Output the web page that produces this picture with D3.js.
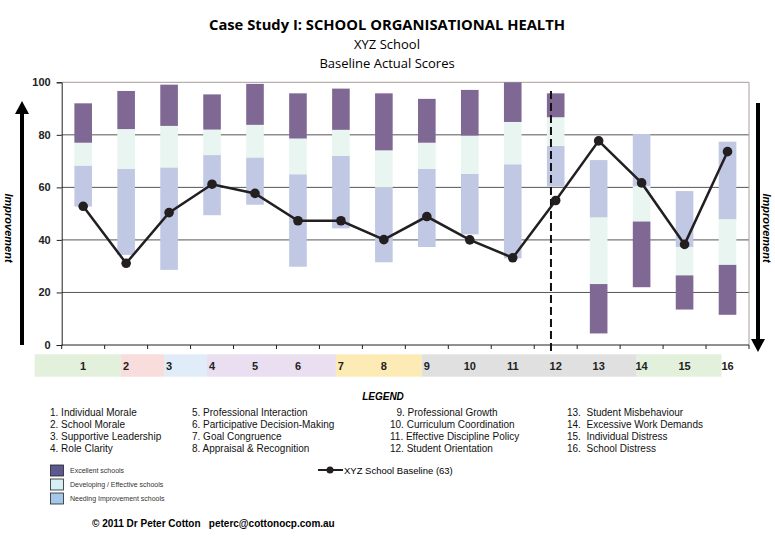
<!doctype html>
<html>
<head>
<meta charset="utf-8">
<title>Case Study I: School Organisational Health</title>
<script src="https://cdn.jsdelivr.net/npm/d3@7"></script>
<style>
  body { margin: 0; background: #fff; }
  svg text { font-family: "Liberation Sans", Arial, sans-serif; }
</style>
</head>
<body>
<svg id="chart" width="775" height="537"></svg>
<script>
// ---- data ----
var categories = ["1","2","3","4","5","6","7","8","9","10","11","12","13","14","15","16"];

// [from, to] ranges for each band, per category
var needing = [[52.7,68.3],[34.3,67.0],[28.6,67.6],[49.4,72.3],[53.4,71.4],[29.8,65.0],[44.4,72.0],[31.5,59.9],
               [37.3,67.0],[42.1,65.1],[33.0,68.8],[60.3,75.8],[48.5,70.4],[60.4,80.3],[37.2,58.6],[47.8,77.4]];
var developing = [[68.3,77.0],[67.0,82.2],[67.6,83.4],[72.3,82.0],[71.4,83.8],[65.0,78.6],[72.0,81.9],[59.9,74.1],
                  [67.0,77.0],[65.1,79.7],[68.8,84.9],[75.8,86.7],[23.2,48.5],[47.0,60.4],[26.5,37.2],[30.5,47.8]];
var excellent = [[77.0,92.0],[82.2,96.7],[83.4,99.1],[82.0,95.4],[83.8,99.4],[78.6,95.8],[81.9,97.6],[74.1,95.8],
                 [77.0,93.7],[79.7,97.1],[84.9,100],[86.7,95.8],[4.4,23.2],[22.0,47.0],[13.5,26.5],[11.5,30.5]];

var baseline = [52.8,31.1,50.4,61.2,57.7,47.3,47.3,40.1,48.9,40.0,33.2,55.0,77.7,61.7,38.3,73.6];

var yTicks = [0,20,40,60,80,100];

// coloured groups under the axis: first and last category of each group
var groups = [["1","1","#e2f0dc"],["2","2","#f9dcdc"],["3","3","#e0ecf8"],["4","6","#eadff0"],
              ["7","8","#fcebb4"],["9","13","#e0e0e0"],["14","15","#e2f0dc"]];

var legendCols = [
  ["1. Individual Morale","2. School Morale","3. Supportive Leadership","4. Role Clarity"],
  ["5. Professional Interaction","6. Participative Decision-Making","7. Goal Congruence","8. Appraisal & Recognition"],
  ["9. Professional Growth","10. Curriculum Coordination","11. Effective Discipline Policy","12. Student Orientation"],
  ["13.  Student Misbehaviour","14.  Excessive Work Demands","15.  Individual Distress","16.  School Distress"]
];
var swatchLabels = ["Excellent schools","Developing / Effective schools","Needing Improvement schools"];

// ---- layout ----
var svg = d3.select("#chart");
var pLeft = 61.7, pRight = 749, pTop = 82.3, pBottom = 345;

var x = d3.scaleBand().domain(categories).range([pLeft, pRight]);
var y = d3.scaleLinear().domain([0, 100]).range([pBottom, pTop]);
var bw = x.bandwidth() * 0.41;
function cx(c) { return x(c) + x.bandwidth() / 2; }

// titles
svg.append("text").attr("x", 387).attr("y", 30).attr("text-anchor", "middle")
  .style("font-family", "'Open Sans', sans-serif").style("font-weight", "bold").style("font-size", "15px")
  .attr("textLength", 356).attr("lengthAdjust", "spacingAndGlyphs")
  .text("Case Study I: SCHOOL ORGANISATIONAL HEALTH");
svg.append("text").attr("x", 387).attr("y", 49).attr("text-anchor", "middle")
  .style("font-family", "'Open Sans', sans-serif").style("font-size", "13px").text("XYZ School");
svg.append("text").attr("x", 387).attr("y", 68).attr("text-anchor", "middle")
  .style("font-family", "'Open Sans', sans-serif").style("font-size", "13px").text("Baseline Actual Scores");

// gridlines
svg.append("g").selectAll("line").data(yTicks.filter(function(d){ return d > 0; })).join("line")
  .attr("x1", pLeft).attr("x2", pRight)
  .attr("y1", function(d){ return y(d); }).attr("y2", function(d){ return y(d); })
  .attr("stroke", function(d){ return d === 100 ? "#a89c9c" : "#555"; }).attr("stroke-width", 1);
svg.append("line").attr("x1", pRight).attr("x2", pRight).attr("y1", pTop).attr("y2", pBottom)
  .attr("stroke", "#a89c9c");

// y axis
var yAxis = svg.append("g").attr("transform", "translate(" + pLeft + ",0)")
  .call(d3.axisLeft(y).tickValues(yTicks).tickSize(5).tickPadding(6));
yAxis.select(".domain").attr("stroke", "#222");
yAxis.selectAll(".tick line").attr("stroke", "#222");
yAxis.selectAll("text").style("font-size", "11px").style("font-weight", "bold").attr("fill", "#222");

// bars
function drawBand(data, color) {
  svg.append("g").selectAll("rect").data(data).join("rect")
    .attr("x", function(d, i){ return cx(categories[i]) - bw / 2; })
    .attr("width", bw)
    .attr("y", function(d){ return y(d[1]); })
    .attr("height", function(d){ return y(d[0]) - y(d[1]); })
    .attr("fill", color);
}
drawBand(needing, "#c0c8e4");
drawBand(developing, "#e8f5f0");
drawBand(excellent, "#806894");

// x axis with ticks at band edges
var xAxis = svg.append("g").attr("transform", "translate(0," + pBottom + ")");
xAxis.append("line").attr("x1", pLeft).attr("x2", pRight).attr("stroke", "#222");
xAxis.selectAll("line.tk").data(categories.concat(["end"])).join("line").attr("class", "tk")
  .attr("x1", function(d){ return d === "end" ? pRight : x(d); })
  .attr("x2", function(d){ return d === "end" ? pRight : x(d); })
  .attr("y1", 0).attr("y2", 4).attr("stroke", "#222");

// dashed divider
var divX = x("12") + x.bandwidth() * 0.39;
svg.append("line").attr("x1", divX).attr("x2", divX).attr("y1", 91).attr("y2", 352)
  .attr("stroke", "#111").attr("stroke-width", 2).attr("stroke-dasharray", "8,4");

// baseline line
var line = d3.line().x(function(d, i){ return cx(categories[i]); }).y(function(d){ return y(d); });
svg.append("path").datum(baseline).attr("d", line)
  .attr("fill", "none").attr("stroke", "#231f20").attr("stroke-width", 2.5);
svg.append("g").selectAll("circle").data(baseline).join("circle")
  .attr("cx", function(d, i){ return cx(categories[i]); }).attr("cy", function(d){ return y(d); })
  .attr("r", 4.8).attr("fill", "#231f20");

// improvement arrows
function arrow(xp, y1, y2) {
  var dir = y2 < y1 ? 1 : -1;
  svg.append("line").attr("x1", xp).attr("x2", xp).attr("y1", y1).attr("y2", y2 + dir * 11)
    .attr("stroke", "#000").attr("stroke-width", 4);
  svg.append("path")
    .attr("d", "M" + xp + "," + y2 + "L" + (xp - 7) + "," + (y2 + dir * 13) + "L" + (xp + 7) + "," + (y2 + dir * 13) + "Z")
    .attr("fill", "#000");
}
arrow(22, pBottom, 101);
arrow(758, 103, 352);
[[9, 228], [767, 228]].forEach(function(p) {
  svg.append("text").attr("transform", "translate(" + p[0] + "," + p[1] + ") rotate(90)")
    .attr("text-anchor", "middle").attr("dy", "0.35em")
    .style("font-size", "11px").style("font-weight", "bold").style("font-style", "italic")
    .text("Improvement");
});

// coloured category strip
function edge(c) { return cx(c) - 5; }
var strip = svg.append("g");
strip.selectAll("rect").data(groups).join("rect")
  .attr("x", function(d, i){ return i === 0 ? pLeft - 27 : edge(d[0]); })
  .attr("width", function(d, i){
    var x0 = i === 0 ? pLeft - 27 : edge(d[0]);
    var nxt = categories[categories.indexOf(d[1]) + 1];
    return edge(nxt) - x0 - (d[1] === "15" ? 1 : 0);
  })
  .attr("y", 354.3).attr("height", 22.4)
  .attr("fill", function(d){ return d[2]; });
strip.selectAll("text").data(categories).join("text")
  .attr("x", function(d){ return cx(d); }).attr("y", 366).attr("dy", "0.35em")
  .attr("text-anchor", "middle").style("font-size", "11px").style("font-weight", "bold")
  .attr("fill", "#222").text(function(d){ return d; });

// legend
svg.append("text").attr("x", 383).attr("y", 400).attr("text-anchor", "middle")
  .style("font-size", "10px").style("font-weight", "bold").style("font-style", "italic").text("LEGEND");
var colX = [50, 192, 390, 567];
legendCols.forEach(function(col, ci) {
  svg.append("g").selectAll("text").data(col).join("text")
    .attr("x", function(d, i){ return colX[ci] + (ci === 2 && i === 0 ? 6.5 : 0); })
    .attr("y", function(d, i){ return 416 + i * 12; })
    .style("font-size", "10px").attr("fill", "#111")
    .attr("xml:space", "preserve")
    .text(function(d){ return d; });
});

var swColors = ["#5c5890", "#d6eff4", "#a4c8ec"];
var sw = svg.append("g");
sw.selectAll("rect").data(swatchLabels).join("rect")
  .attr("x", 50.5).attr("y", function(d, i){ return 465 + i * 14; })
  .attr("width", 13).attr("height", 11)
  .attr("fill", function(d, i){ return swColors[i]; })
  .attr("stroke", "#222").attr("stroke-width", 0.8);
sw.selectAll("text").data(swatchLabels).join("text")
  .attr("x", 70).attr("y", function(d, i){ return 473 + i * 14; })
  .style("font-size", "7px").attr("fill", "#333").text(function(d){ return d; });

svg.append("line").attr("x1", 318).attr("x2", 343).attr("y1", 470).attr("y2", 470)
  .attr("stroke", "#231f20").attr("stroke-width", 2);
svg.append("circle").attr("cx", 330).attr("cy", 470).attr("r", 3.5).attr("fill", "#231f20");
svg.append("text").attr("x", 344).attr("y", 473.5).style("font-size", "9.5px")
  .text("XYZ School Baseline (63)");

// footer
svg.append("text").attr("x", 92).attr("y", 527).style("font-size", "10px").style("font-weight", "bold")
  .attr("xml:space", "preserve").text("\u00a9 2011 Dr Peter Cotton   peterc@cottonocp.com.au");
</script>
</body>
</html>
